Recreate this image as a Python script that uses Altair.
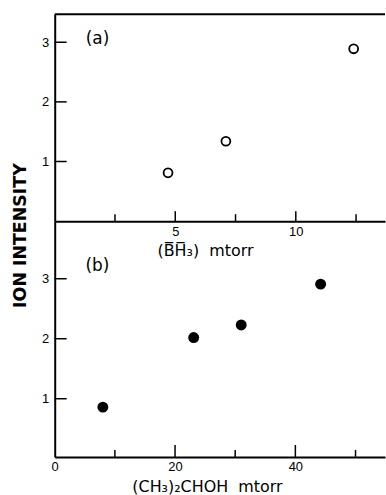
import altair as alt
import pandas as pd

# ---- data ----
a_x = [4.7, 7.1, 12.4]          # (BH3) mtorr
a_y = [0.81, 1.34, 2.89]        # ion intensity, panel (a)
b_x = [8.0, 23.1, 31.0, 44.2]   # (CH3)2CHOH mtorr
b_y = [0.86, 2.02, 2.23, 2.91]  # ion intensity, panel (b)

a_xlabels = [5, 10]
a_xminor = [2.5, 7.5, 12.5]
b_xlabels = [0, 20, 40]
b_xmajor = [20, 40]
b_xminor = [10, 30, 50]
y_ticks = [1, 2, 3]

W = 332
HA = 208
HB = 237
FONT = "Liberation Sans"
TFONT = "DejaVu Sans"
NB = "\u00a0"


def panel(xs, ys, filled, xdom, ydom, H, xlabels, xmajor, xminor, xmaj_len,
          xtitle, xtitle_x, label, with_ytitle, top_line):
    pts = pd.DataFrame({"x": xs, "y": ys})
    xs_ = alt.Scale(domain=xdom, nice=False, zero=False)
    ys_ = alt.Scale(domain=ydom, nice=False, zero=False)
    ycommon = dict(values=y_ticks, ticks=False, tickSize=0, grid=False,
                   domain=True, domainWidth=2, domainColor="black",
                   labelPadding=6, labelFontSize=13, labelFont=FONT,
                   labelColor="black")
    if with_ytitle:
        yaxis = alt.Axis(**ycommon, titleFont=TFONT,
                         titleFontSize=17.5, titleFontWeight="bold",
                         titleColor="black", titleX=-34, titleY=222,
                         titleAngle=-90, titleAlign="center",
                         titleBaseline="middle")
        ytitle = "ION INTENSITY"
    else:
        yaxis = alt.Axis(**ycommon)
        ytitle = None
    xaxis = alt.Axis(values=xlabels, ticks=False, tickSize=0, grid=False,
                     domain=True, domainWidth=2, domainColor="black",
                     labelPadding=4, labelFontSize=13, labelFont=FONT,
                     labelColor="black", labelFlush=False,
                     titleFont=TFONT, titleFontSize=16,
                     titleFontWeight="normal", titleColor="black",
                     titleX=xtitle_x, titleY=30, titleAlign="center",
                     titleBaseline="middle")

    def X(f):
        return alt.X(f, type="quantitative", scale=xs_, axis=xaxis, title=xtitle)

    def Y(f):
        return alt.Y(f, type="quantitative", scale=ys_, axis=yaxis, title=ytitle)

    if filled:
        mark = alt.Chart(pts).mark_point(filled=True, shape="circle", size=120,
                                         color="black", opacity=1)
    else:
        mark = alt.Chart(pts).mark_point(filled=False, shape="circle", size=80,
                                         color="black", strokeWidth=1.8,
                                         opacity=1)
    points = mark.encode(x=X("x"), y=Y("y"))
    yt = alt.Chart(pd.DataFrame({"y": y_ticks})).mark_rule(
        color="black", strokeWidth=1.5).encode(
        y=Y("y"), x=alt.value(0), x2=alt.value(12))
    xmaj = alt.Chart(pd.DataFrame({"x": xmajor})).mark_rule(
        color="black", strokeWidth=1.5).encode(
        x=X("x"), y=alt.value(H), y2=alt.value(H - xmaj_len))
    xmin = alt.Chart(pd.DataFrame({"x": xminor})).mark_rule(
        color="black", strokeWidth=1.5).encode(
        x=X("x"), y=alt.value(H), y2=alt.value(H - 7))
    txt = alt.Chart(pd.DataFrame({"t": [label]})).mark_text(
        font=TFONT, fontSize=17, color="black", align="center",
        baseline="middle").encode(
        text="t:N", x=alt.value(43), y=alt.value(25 if top_line else 45))
    layers = [points, yt, xmaj, xmin, txt]
    if top_line:
        tl = alt.Chart(pd.DataFrame({"t": [0]})).mark_rule(
            color="black", strokeWidth=2).encode(
            x=alt.value(0), x2=alt.value(W), y=alt.value(0))
        layers.append(tl)
    return alt.layer(*layers).properties(width=W, height=H)


top = panel(a_x, a_y, False, [0, 13.7], [0.0, 3.47], HA, a_xlabels, a_xlabels,
            a_xminor, 10, "(B\u0305H\u0305\u2083)" + NB + NB + "mtorr", 151,
            "(a)", True, True)
bottom = panel(b_x, b_y, True, [0, 54.9], [0.03, 3.96], HB, b_xlabels, b_xmajor,
               b_xminor, 12, "(CH\u2083)\u2082CHOH" + NB + NB + "mtorr", 153,
               "(b)", False, False)

chart = alt.vconcat(top, bottom, spacing=0, bounds="flush").properties(
    padding={"left": 12, "top": 12, "right": 0, "bottom": 0},
    background="white",
).configure_view(stroke=None)

chart.save("out.html", embed_options={"renderer": "svg", "actions": False})
